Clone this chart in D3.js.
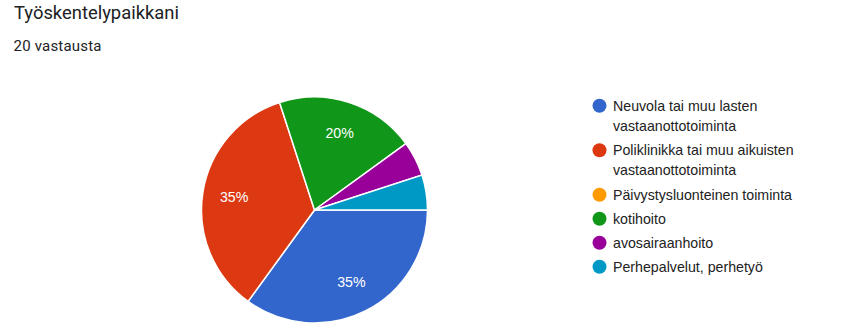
<!DOCTYPE html>
<html><head><meta charset="utf-8">
<script src="https://cdn.jsdelivr.net/npm/d3@7"></script>
<style>body{margin:0;background:#fff}svg{display:block}</style>
</head><body>
<svg id="c" width="847" height="336"></svg>
<script>
const title = "Työskentelypaikkani";
const subtitle = "20 vastausta";
const categories = [
  ["Neuvola tai muu lasten", "vastaanottotoiminta"],
  ["Poliklinikka tai muu aikuisten", "vastaanottotoiminta"],
  ["Päivystysluonteinen toiminta"],
  ["kotihoito"],
  ["avosairaanhoito"],
  ["Perhepalvelut, perhetyö"]
];
const counts = [7, 7, 0, 4, 1, 1];
const colors = ["#3366cc", "#dc3912", "#ff9900", "#109618", "#990099", "#0099c6"];

const svg = d3.select("#c");
svg.append("text").attr("x", 14).attr("y", 19).text(title)
  .attr("font-family", "Roboto, Arial, sans-serif").attr("font-size", 18.4).attr("fill", "#202124");
svg.append("text").attr("x", 13.5).attr("y", 50.5).text(subtitle)
  .attr("font-family", "Roboto, Arial, sans-serif").attr("font-size", 15)
  .attr("letter-spacing", 0.2).attr("fill", "#202124");

const cx = 314.5, cy = 210, r = 113;
const total = d3.sum(counts);
const pie = d3.pie().sort(null).value(d => d)
  .startAngle(Math.PI / 2).endAngle(Math.PI / 2 + 2 * Math.PI);
const arcs = pie(counts);
const arc = d3.arc().innerRadius(0).outerRadius(r);
const g = svg.append("g").attr("transform", `translate(${cx},${cy})`);
g.selectAll("path").data(arcs).join("path")
  .attr("d", arc).attr("fill", (d, i) => colors[i])
  .attr("stroke", "#fff").attr("stroke-width", d => d.value > 0 ? 1.5 : 0);
const labelArc = d3.arc().innerRadius(r * 0.72).outerRadius(r * 0.72);
g.selectAll("text").data(arcs.filter(d => d.value / total >= 0.1)).join("text")
  .attr("transform", d => `translate(${labelArc.centroid(d)})`)
  .attr("text-anchor", "middle").attr("dy", "0.35em")
  .attr("font-family", "Arial, 'Liberation Sans', sans-serif").attr("font-size", 14.2)
  .attr("fill", "#fff")
  .text(d => Math.round(d.value / total * 100) + "%");

const legend = svg.append("g");
let y = 105.7;
categories.forEach((lines, i) => {
  const row = legend.append("g").attr("transform", `translate(0,${y})`);
  row.append("circle").attr("cx", 599.5).attr("cy", 0).attr("r", 7).attr("fill", colors[i]);
  lines.forEach((t, j) => {
    row.append("text").attr("x", 613).attr("y", 5 + j * 20).text(t)
      .attr("font-family", "Arial, 'Liberation Sans', sans-serif").attr("font-size", 14.2)
      .attr("fill", "#222");
  });
  y += lines.length > 1 ? 44.5 : 24;
});
</script>
</body></html>
